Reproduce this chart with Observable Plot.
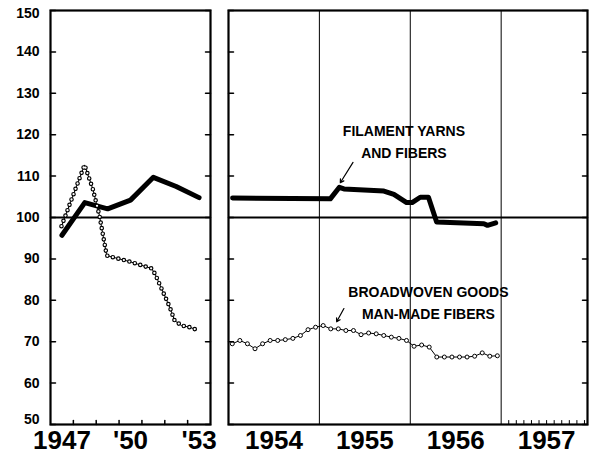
<!DOCTYPE html>
<html>
<head>
<meta charset="utf-8">
<script src="https://cdn.jsdelivr.net/npm/d3@7"></script>
<script src="https://cdn.jsdelivr.net/npm/@observablehq/plot@0.6"></script>
<style>
  body { margin: 0; background: #fff; }
  #chart { position: relative; width: 590px; height: 455px; overflow: hidden; background: #fff; }
  #chart svg { position: absolute; top: 0; }
</style>
</head>
<body>
<div id="chart"></div>
<script>
// ---------- data ----------
const yTicks = [50, 60, 70, 80, 90, 100, 110, 120, 130, 140, 150];

const earlyLabelYears = [1947.5, 1950.5, 1953.5];
const earlyLabels = ["1947", "'50", "'53"];
const earlyYearTicks = [1948, 1949, 1950, 1951, 1952, 1953];

const lateLabelYears = [1954.5, 1955.5, 1956.5, 1957.5];
const lateLabels = ["1954", "1955", "1956", "1957"];
const lateYearLines = [1955, 1956, 1957];
const months1957 = [1, 2, 3, 4, 5, 6, 7, 8, 9, 10, 11];

// Filament yarns and fibers, 1947-1953 (annual)
const filamentEarlyYears = [1947.5, 1948.5, 1949.5, 1950.5, 1951.5, 1952.5, 1953.5];
const filamentEarlyValues = [95.7, 103.6, 102.1, 104.2, 109.7, 107.5, 104.8];

// Broadwoven goods, man-made fibers, 1947-1953
const broadEarlyYears = [1947.48, 1948.49, 1948.85, 1949.14, 1949.46, 1950.43, 1951.42, 1951.57, 1951.86, 1952.22, 1952.43, 1952.73, 1953.09, 1953.38];
const broadEarlyValues = [97.9, 112.7, 106.9, 100.5, 90.8, 89.4, 87.7, 86.4, 82.8, 78.3, 75.1, 73.9, 73.5, 72.9];

// Filament yarns and fibers, 1954-1956
const filamentLateYears = [1954.045, 1955.12, 1955.22, 1955.27, 1955.71, 1955.82, 1955.96, 1956.02, 1956.11, 1956.20, 1956.29, 1956.81, 1956.85, 1956.94];
const filamentLateValues = [104.7, 104.5, 107.3, 106.9, 106.4, 105.6, 103.6, 103.6, 104.9, 104.9, 98.9, 98.5, 98.1, 98.7];

// Broadwoven goods, man-made fibers, monthly Jan 1954 - Dec 1956
const broadLateValues = [
  69.5, 70.3, 69.5, 68.3, 69.5, 70.3, 70.3, 70.5, 70.8, 71.5, 72.9, 73.5,
  73.9, 73.1, 73.1, 72.7, 72.7, 71.7, 72.1, 71.9, 71.5, 71.1, 70.8, 70.3,
  68.9, 69.2, 68.7, 66.3, 66.3, 66.3, 66.3, 66.3, 66.5, 67.3, 66.5, 66.6
];

// annotations
const noteTexts = ["FILAMENT YARNS\nAND FIBERS", "BROADWOVEN GOODS\nMAN-MADE FIBERS"];
const noteX = [1955.93, 1956.2];
const noteY = [118.8, 79.8];
const arrowX1 = [1955.37, 1955.27];
const arrowY1 = [113.3, 78.0];
const arrowX2 = [1955.23, 1955.19];
const arrowY2 = [108.4, 74.8];

// ---------- helpers ----------
const FONT = "'Liberation Sans', Arial, sans-serif";
const tickShape = {draw(ctx, l) { ctx.moveTo(0, 0); ctx.lineTo(0, -l); }};

const rows = (xs, ys) => xs.map((x, i) => ({x, y: ys[i]}));
const filamentEarly = rows(filamentEarlyYears, filamentEarlyValues);
const broadEarly = rows(broadEarlyYears, broadEarlyValues);
const filamentLate = rows(filamentLateYears, filamentLateValues);
const broadLate = broadLateValues.map((v, i) => ({x: 1954 + (i + 0.5) / 12, y: v}));

function yTickMarks() {
  return [
    Plot.vector(yTicks, {y: d => d, frameAnchor: "left", length: 5, rotate: 90, anchor: "start", shape: tickShape, strokeWidth: 1.5}),
    Plot.vector(yTicks, {y: d => d, frameAnchor: "right", length: 5, rotate: -90, anchor: "start", shape: tickShape, strokeWidth: 1.5})
  ];
}

function circleLine(data) {
  return [
    Plot.line(data, {x: "x", y: "y", stroke: "black", strokeWidth: 1}),
    Plot.line(data, {x: "x", y: "y", stroke: "black", strokeWidth: 4.6, strokeDasharray: "0 5.7", strokeLinecap: "round"}),
    Plot.line(data, {x: "x", y: "y", stroke: "white", strokeWidth: 2.3, strokeDasharray: "0 5.7", strokeLinecap: "round"})
  ];
}

function yearLabels(labels, positions) {
  return Plot.text(labels, {
    x: positions, text: labels, frameAnchor: "bottom", lineAnchor: "top", dy: 6,
    fontSize: 26, fontWeight: "bold", fontFamily: FONT, ariaLabel: "year-labels"
  });
}

const yLabelStyle = {tickSize: 0, tickPadding: 11, fontSize: 14, fontWeight: "bold", fontFamily: FONT};

const common = {
  height: 455,
  marginTop: 10,
  marginBottom: 31,
  style: {background: "transparent", overflow: "visible", fontFamily: FONT}
};

// ---------- left panel 1947-1953 ----------
const left = Plot.plot({
  ...common,
  width: 218,
  marginLeft: 50,
  marginRight: 8,
  x: {domain: [1947, 1954], label: null, axis: null},
  y: {domain: [50, 150], label: null},
  marks: [
    Plot.ruleY([100], {strokeWidth: 2}),
    Plot.line(filamentEarly, {x: "x", y: "y", stroke: "black", strokeWidth: 5, strokeLinejoin: "round"}),
    ...circleLine(broadEarly),
    ...yTickMarks(),
    Plot.vector(earlyYearTicks, {x: d => d, frameAnchor: "bottom", length: 4, rotate: 0, anchor: "start", shape: tickShape, strokeWidth: 1.5}),
    Plot.frame({strokeWidth: 2.2}),
    Plot.axisY(yTicks.slice(1, -1), yLabelStyle),
    Plot.axisY(yTicks.slice(-1), {...yLabelStyle, dy: 3}),
    Plot.axisY(yTicks.slice(0, 1), {...yLabelStyle, dy: -5}),
    yearLabels(earlyLabels, earlyLabelYears)
  ]
});

// ---------- right panel 1954-1957 ----------
const right = Plot.plot({
  ...common,
  width: 372,
  marginLeft: 10,
  marginRight: 3,
  x: {domain: [1954, 1957.95], label: null, axis: null},
  y: {domain: [50, 150], label: null, axis: null},
  marks: [
    Plot.ruleX(lateYearLines, {strokeWidth: 1}),
    Plot.ruleY([100], {strokeWidth: 2}),
    Plot.line(filamentLate, {x: "x", y: "y", stroke: "black", strokeWidth: 5, strokeLinejoin: "round"}),
    Plot.line(broadLate, {x: "x", y: "y", stroke: "black", strokeWidth: 1}),
    Plot.dot(broadLate, {x: "x", y: "y", r: 2, fill: "white", stroke: "black", strokeWidth: 1}),
    ...yTickMarks(),
    Plot.vector(months1957, {x: m => 1957 + m / 12, frameAnchor: "bottom", length: 4, rotate: 0, anchor: "start", shape: tickShape, strokeWidth: 1}),
    Plot.frame({strokeWidth: 2.2}),
    Plot.text(noteTexts, {x: noteX, y: noteY, text: noteTexts, lineAnchor: "middle", lineHeight: 1.6, fontSize: 14, fontWeight: "bold", fontFamily: FONT, ariaLabel: "annotation"}),
    Plot.arrow(noteTexts, {x1: arrowX1, y1: arrowY1, x2: arrowX2, y2: arrowY2, stroke: "black", strokeWidth: 1.2, headLength: 5}),
    yearLabels(lateLabels, lateLabelYears)
  ]
});

d3.select(right).selectAll("g[aria-label=annotation] text")
  .style("letter-spacing", "1px")
  .style("word-spacing", "4px");
// condensed look for the big year labels
for (const svg of [left, right]) {
  d3.select(svg).selectAll("g[aria-label=year-labels] text").each(function() {
    const t = this.getAttribute("transform") || "";
    this.setAttribute("transform", t + " scale(0.88,1)");
  });
}

const chart = document.getElementById("chart");
left.style.left = "0px";
right.style.left = "218px";
chart.appendChild(left);
chart.appendChild(right);
</script>
</body>
</html>
